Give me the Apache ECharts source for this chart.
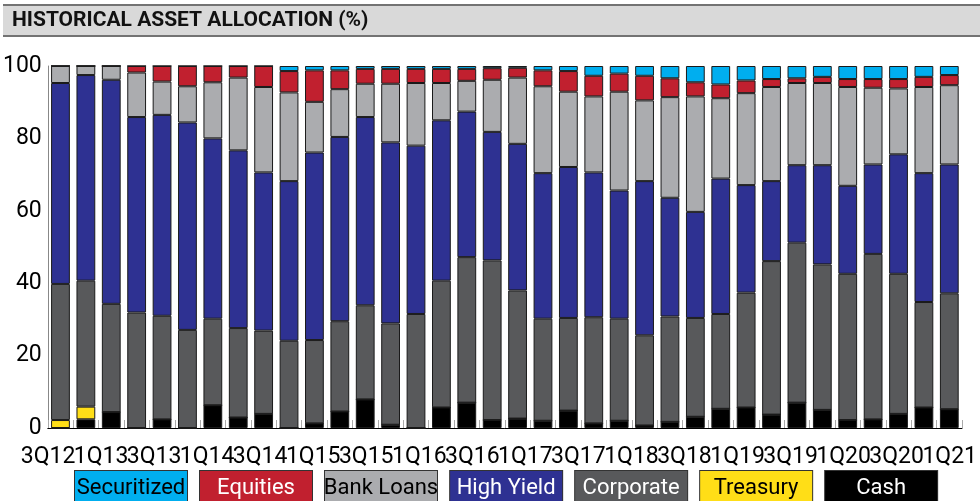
<!DOCTYPE html>
<html>
<head>
<meta charset="utf-8">
<script src="https://cdn.jsdelivr.net/npm/echarts@6/dist/echarts.min.js"></script>
<style>
  html, body { margin: 0; padding: 0; background: #fff; }
  #chart-container { width: 980px; height: 501px; }
</style>
</head>
<body>
<div id="chart-container"></div>
<script>
// quarters 3Q12 .. 2Q21
var quarters = ['3Q12','4Q12','1Q13','2Q13','3Q13','4Q13','1Q14','2Q14','3Q14','4Q14','1Q15','2Q15',
    '3Q15','4Q15','1Q16','2Q16','3Q16','4Q16','1Q17','2Q17','3Q17','4Q17','1Q18','2Q18',
    '3Q18','4Q18','1Q19','2Q19','3Q19','4Q19','1Q20','2Q20','3Q20','4Q20','1Q21','2Q21'];
// only every other quarter is labelled
var tickLabels = ['3Q12','1Q13','3Q13','1Q14','3Q14','1Q15','3Q15','1Q16','3Q16',
    '1Q17','3Q17','1Q18','3Q18','1Q19','3Q19','1Q20','3Q20','1Q21'];

// allocation in %, stacked bottom -> top
var cash = [0, 2.4, 4.4, 0, 2.4, 0, 6.3, 2.9, 3.9, 0, 1.3, 4.6, 7.9, 0.9, 0, 5.7, 7.0, 2.2,
    2.6, 2.0, 4.8, 1.3, 2.0, 0.7, 1.7, 3.1, 5.3, 5.7, 3.7, 7.0, 5.0, 2.2, 2.4, 3.9, 5.7, 5.2];
var treasury = [2.2, 3.5, 0, 0, 0, 0, 0, 0, 0, 0, 0, 0, 0, 0, 0, 0, 0, 0,
    0, 0, 0, 0, 0, 0, 0, 0, 0, 0, 0, 0, 0, 0, 0, 0, 0, 0];
var corporate = [37.6, 34.8, 29.9, 31.9, 28.6, 27.1, 23.9, 24.7, 23.0, 24.1, 23.0, 24.9, 26.0, 28.0, 31.5, 35.0, 40.2, 44.1,
    35.4, 28.2, 25.6, 29.3, 28.2, 24.9, 29.1, 27.3, 26.2, 31.7, 42.4, 44.2, 40.2, 40.4, 45.7, 38.7, 29.1, 32.0];
var highYield = [55.5, 56.8, 61.9, 54.0, 55.5, 57.3, 49.8, 49.1, 43.7, 44.1, 51.8, 50.9, 52.0, 50.0, 46.5, 44.3, 40.2, 35.5,
    40.5, 40.2, 41.7, 40.0, 35.4, 42.6, 32.8, 29.3, 37.4, 29.7, 22.1, 21.4, 27.4, 24.3, 24.7, 33.0, 35.6, 35.6];
var bankLoans = [4.7, 2.5, 3.8, 12.3, 9.2, 10.0, 15.5, 20.1, 23.6, 24.5, 14.0, 13.2, 9.2, 16.2, 17.3, 10.3, 8.5, 14.4,
    18.3, 24.0, 20.8, 21.0, 27.3, 22.3, 27.8, 31.9, 22.2, 25.4, 26.0, 22.7, 22.7, 27.3, 21.2, 18.2, 23.8, 21.9];
var equities = [0, 0, 0, 1.8, 4.3, 5.6, 4.5, 3.2, 5.8, 5.9, 8.7, 5.2, 4.1, 4.1, 3.9, 3.9, 3.3, 3.2,
    2.7, 4.4, 5.7, 5.7, 5.0, 6.8, 5.2, 3.9, 3.8, 3.5, 2.2, 1.3, 1.7, 2.2, 2.4, 2.6, 2.8, 2.8];
var securitized = [0, 0, 0, 0, 0, 0, 0, 0, 0, 1.4, 1.2, 1.2, 0.8, 0.8, 0.8, 0.8, 0.8, 0.6,
    0.5, 1.2, 1.4, 2.7, 2.1, 2.7, 3.4, 4.5, 5.1, 4.0, 3.6, 3.4, 3.0, 3.6, 3.6, 3.6, 3.0, 2.5];

var FONT = 'Roboto, "Liberation Sans", sans-serif';

// name, data, fill, legend text colour, rich key
var groups = [
    ['Cash', cash, '#000000', '#ffffff', 'cash'],
    ['Treasury', treasury, '#ffde17', '#000000', 'tre'],
    ['Corporate', corporate, '#58595b', '#ffffff', 'corp'],
    ['High Yield', highYield, '#2e3192', '#ffffff', 'hy'],
    ['Bank Loans', bankLoans, '#abacaf', '#000000', 'bl'],
    ['Equities', equities, '#c1202f', '#ffffff', 'eq'],
    ['Securitized', securitized, '#00aeef', '#000000', 'sec']
];

var rich = {}, keyOf = {};
groups.forEach(function (g) {
    keyOf[g[0]] = g[4];
    rich[g[4]] = {
        backgroundColor: g[2],
        borderColor: '#333',
        borderWidth: 1,
        color: g[3],
        width: 112,
        height: 34,
        lineHeight: 34,
        align: 'center',
        fontSize: 22,
        fontFamily: FONT
    };
});

var series = groups.map(function (g) {
    return {
        name: g[0],
        type: 'bar',
        stack: 'alloc',
        barWidth: '74%',
        data: g[1],
        itemStyle: { color: g[2], borderColor: '#1a1a1a', borderWidth: 1 },
        emphasis: { disabled: true }
    };
});

var myChart = echarts.init(document.getElementById('chart-container'));
myChart.setOption({
    animation: false,
    backgroundColor: '#ffffff',
    graphic: [
        { type: 'rect', left: 3, top: 5, shape: { width: 977, height: 31 }, style: { fill: '#d9d9d9' } },
        { type: 'line', shape: { x1: 3, y1: 5, x2: 980, y2: 5 }, style: { stroke: '#737373', lineWidth: 2 } },
        { type: 'line', shape: { x1: 3, y1: 36, x2: 980, y2: 36 }, style: { stroke: '#737373', lineWidth: 2 } },
        {
            type: 'text', left: 12, top: 10,
            style: { text: 'HISTORICAL ASSET ALLOCATION (%)', fontSize: 21, fontWeight: 'bold', fontFamily: FONT, fill: '#111' }
        }
    ],
    legend: {
        data: ['Securitized', 'Equities', 'Bank Loans', 'High Yield', 'Corporate', 'Treasury', 'Cash'],
        left: 64,
        top: 465,
        itemGap: 6,
        itemWidth: 0,
        itemHeight: 0,
        selectedMode: false,
        formatter: function (name) { return '{' + keyOf[name] + '|' + name + '}'; },
        textStyle: { rich: rich }
    },
    grid: [
        { left: 47, right: 18, top: 66, bottom: 73 },
        // labels only, spread like in the source
        { left: 48, right: 27, top: 66, bottom: 73 }
    ],
    xAxis: [{
        type: 'category',
        gridIndex: 0,
        data: quarters,
        axisLine: { lineStyle: { color: '#000', width: 1 } },
        axisTick: { show: true, inside: true, length: 8, interval: 0, lineStyle: { color: '#aaa' } },
        axisLabel: { show: false }
    }, {
        type: 'category',
        gridIndex: 1,
        data: tickLabels,
        boundaryGap: false,
        axisLine: { show: false },
        axisTick: { show: false },
        axisLabel: { interval: 0, margin: 18, fontSize: 23, fontFamily: FONT, color: '#000' }
    }],
    yAxis: [{
        type: 'value',
        gridIndex: 0,
        min: 0,
        max: 100,
        interval: 20,
        splitLine: { show: false },
        axisLine: { show: true, lineStyle: { color: '#888' } },
        axisTick: { show: false },
        axisLabel: { fontSize: 23, fontFamily: FONT, color: '#000', margin: 6, padding: [6, 0, 0, 0] }
    }, {
        type: 'value',
        gridIndex: 1,
        show: false
    }],
    series: series
});
</script>
</body>
</html>
